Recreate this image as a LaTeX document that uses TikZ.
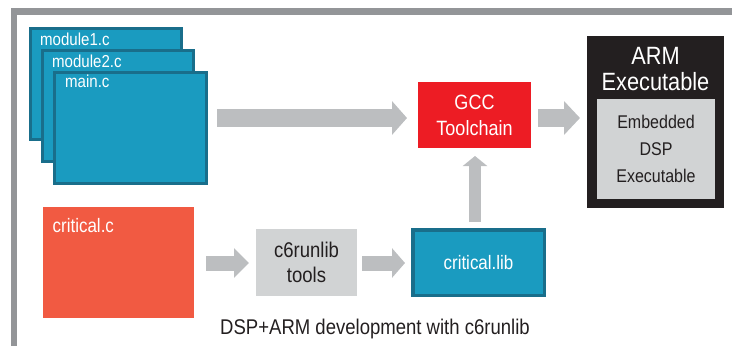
\documentclass[tikz,border=0pt]{standalone}
\usepackage{fontspec}
\setmainfont{Liberation Sans}[FakeStretch=0.87]
\usetikzlibrary{arrows.meta,calc}
\definecolor{frameg}{HTML}{939598}
\definecolor{arrg}{HTML}{BCBEC0}
\definecolor{tealf}{HTML}{1A9BC0}
\definecolor{tealb}{HTML}{196E8B}
\definecolor{gccred}{HTML}{ED1C24}
\definecolor{critred}{HTML}{F15A42}
\definecolor{armblk}{HTML}{231F20}
\definecolor{lgray}{HTML}{D1D3D4}
\begin{document}
\begin{tikzpicture}[x=1pt,y=-1pt,
  box/.style={rectangle, inner sep=0pt, outer sep=0pt},
  srcbox/.style={box, fill=tealf, draw=tealb, line width=3pt, minimum width=151pt, minimum height=111pt},
  lbl/.style={text=white, font=\fontsize{17.3}{20}\selectfont, inner sep=0pt, anchor=base west},
  arr/.style={draw=arrg, line width=#1, line cap=butt},
  txt/.style={align=center, inner sep=0pt}]
\useasboundingbox (0,0) rectangle (732,346);
% frame
\fill[frameg] (11,8) rectangle (732,15);
\fill[frameg] (11,8) rectangle (17,346);
% source files
\node[srcbox] (m1) at (106,84) {};
\node[lbl] (m1l) at ($(m1.north west)+(9.5,16.5)$) {module1.c};
\node[srcbox] (m2) at (118,106) {};
\node[lbl] (m2l) at ($(m2.north west)+(9.5,16.5)$) {module2.c};
\node[srcbox, minimum width=152pt] (main) at (130.5,128) {};
\node[lbl] (mainl) at ($(main.north west)+(10.5,14.5)$) {main.c};
% GCC
\node[box, fill=gccred, minimum width=113pt, minimum height=66pt, text=white, txt,
      font=\fontsize{20.7}{26}\selectfont] (gcc) at (474.5,115) {GCC\\Toolchain};
% ARM executable
\node[box, fill=armblk, minimum width=137pt, minimum height=172pt] (arm) at (655.5,122) {};
\node[txt, text=white, font=\fontsize{25}{25.5}\selectfont] (armt) at (655.5,69) {ARM\\Executable};
\node[box, fill=lgray, minimum width=118pt, minimum height=100pt, txt, text=armblk,
      font=\fontsize{18.4}{27}\selectfont] (dsp) at (656,149) {Embedded\\DSP\\Executable};
% critical.c
\node[box, fill=critred, minimum width=151pt, minimum height=111pt] (crc) at (118.5,262.5) {};
\node[lbl, font=\fontsize{19.5}{22}\selectfont] (crcl) at ($(crc.north west)+(9.5,25)$) {critical.c};
% c6runlib tools
\node[box, fill=lgray, minimum width=101pt, minimum height=67pt, txt, text=armblk,
      font=\fontsize{21.3}{25}\selectfont] (c6) at (306.5,262.5) {c6runlib\\tools};
% critical.lib
\node[box, fill=tealf, draw=tealb, line width=3.5pt, minimum width=131.5pt, minimum height=65.5pt,
      text=white, font=\fontsize{19.5}{22}\selectfont] (crlib) at (478.5,262.5) {critical.lib};
% caption
\node[inner sep=0pt, text=armblk, font=\fontsize{21.3}{24}\selectfont] (cap) at (375,329) {DSP+ARM development with c6runlib};
% arrows
\coordinate (r1) at (0,118);
\coordinate (r2) at (0,263);
\draw[arr=18pt, -{Triangle[length=15pt,width=33pt]}] ($(main.east |- r1)+(10.5,0)$) -- ($(gcc.west |- r1)+(-11,0)$);
\draw[arr=18pt, -{Triangle[length=16pt,width=33pt]}] ($(gcc.east |- r1)+(7,0)$) -- ($(arm.west |- r1)+(-7,0)$);
\draw[arr=12pt, -{Triangle[length=10pt,width=24pt]}] ($(crlib.north -| gcc.south)+(0.5,-7.75)$) -- ($(gcc.south)+(0.5,8)$);
\draw[arr=15pt, -{Triangle[length=15pt,width=29pt]}] ($(crc.east |- r2)+(12,0)$) -- ($(c6.west |- r2)+(-7,0)$);
\draw[arr=15pt, -{Triangle[length=13pt,width=29pt]}] ($(c6.east |- r2)+(5,0)$) -- ($(crlib.west |- r2)+(-7.75,0)$);
\end{tikzpicture}
\end{document}
